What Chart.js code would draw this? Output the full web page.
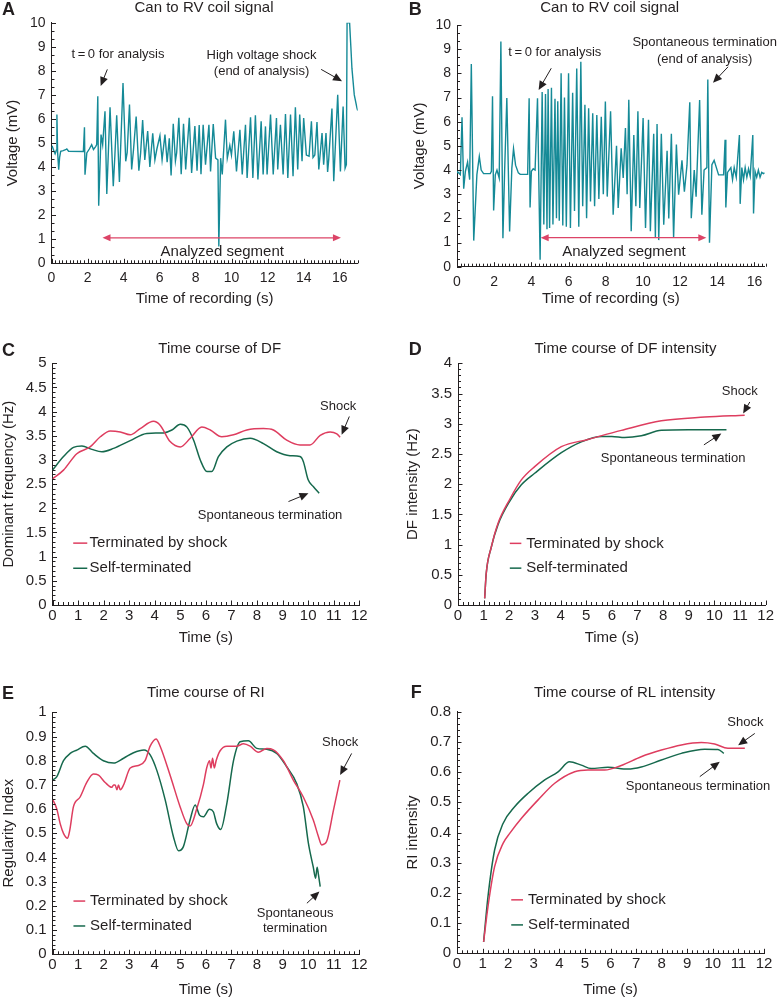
<!DOCTYPE html>
<html>
<head>
<meta charset="utf-8">
<title>Can to RV coil signal, DF and RI time courses</title>
<script src="https://cdn.jsdelivr.net/npm/chart.js@4.4.1/dist/chart.umd.min.js"></script>
<style>
  html, body { margin: 0; padding: 0; background: #fff; }
  #fig { position: relative; width: 777px; height: 1003px; overflow: hidden; }
  #fig canvas { position: absolute; }
</style>
</head>
<body>
<div id="fig">
  <canvas id="panelA" width="388" height="310" style="left:0;top:0"></canvas>
  <canvas id="panelB" width="389" height="310" style="left:388px;top:0"></canvas>
  <canvas id="panelC" width="388" height="340" style="left:0;top:310px"></canvas>
  <canvas id="panelD" width="389" height="340" style="left:388px;top:310px"></canvas>
  <canvas id="panelE" width="388" height="353" style="left:0;top:650px"></canvas>
  <canvas id="panelF" width="389" height="353" style="left:388px;top:650px"></canvas>
</div>
<script>
// ============================================
//  Data
// ============================================
const voltTicks = [0, 1, 2, 3, 4, 5, 6, 7, 8, 9, 10];
const recTicks  = [0, 2, 4, 6, 8, 10, 12, 14, 16];
const timeTicks = [0, 1, 2, 3, 4, 5, 6, 7, 8, 9, 10, 11, 12];
const dfTicks   = [0, 0.5, 1, 1.5, 2, 2.5, 3, 3.5, 4, 4.5, 5];
const dfiTicks  = [0, 0.5, 1, 1.5, 2, 2.5, 3, 3.5, 4];
const riTicks   = [0, 0.1, 0.2, 0.3, 0.4, 0.5, 0.6, 0.7, 0.8, 0.9, 1];
const rliTicks  = [0, 0.1, 0.2, 0.3, 0.4, 0.5, 0.6, 0.7, 0.8];

// A: can to RV coil signal, shock-terminated episode
const sigATime = [0.00,0.05,0.12,0.20,0.27,0.30,0.34,0.40,0.45,0.51,0.65,0.78,0.85,0.95,1.77,1.83,1.86,1.96,2.10,2.23,2.33,2.45,2.51,2.57,2.62,2.75,2.84,2.97,3.07,3.25,3.43,3.52,3.62,3.77,3.97,4.12,4.20,4.33,4.45,4.55,4.70,4.85,4.95,5.06,5.18,5.34,5.46,5.62,5.74,5.85,6.02,6.14,6.30,6.42,6.54,6.64,6.76,6.88,6.95,7.07,7.20,7.33,7.45,7.65,7.78,7.96,8.08,8.20,8.30,8.42,8.55,8.74,8.83,8.98,9.11,9.24,9.29,9.39,9.48,9.66,9.76,9.90,9.99,10.12,10.27,10.46,10.59,10.77,10.86,11.05,11.18,11.32,11.46,11.64,11.75,11.88,11.97,12.16,12.31,12.49,12.56,12.71,12.86,12.99,13.12,13.27,13.41,13.54,13.67,13.78,13.91,14.00,14.15,14.30,14.43,14.52,14.62,14.74,14.84,15.02,15.11,15.24,15.33,15.39,15.57,15.67,15.89,16.04,16.19,16.30,16.37,16.41,16.55,16.62,16.68,16.81,16.96,17.00];
const sigAVolt = [4.80,4.85,4.70,4.55,4.70,6.18,4.60,3.89,4.40,4.65,4.68,4.72,4.75,4.66,4.65,5.65,3.68,4.59,4.75,4.93,4.73,4.85,4.93,6.94,2.39,5.35,4.93,6.32,2.88,6.48,3.20,4.50,6.15,3.38,7.49,4.24,4.60,6.60,3.90,4.70,6.10,3.85,4.60,5.95,4.30,5.50,4.00,5.40,4.30,4.75,5.30,4.30,5.35,4.20,5.20,3.65,5.80,4.25,4.60,6.05,3.70,5.80,3.90,6.05,3.75,5.70,3.85,5.75,3.70,5.76,4.10,5.76,3.82,5.79,4.37,4.30,0.70,4.37,3.69,5.97,4.37,4.90,4.50,5.49,3.82,5.55,3.69,5.76,3.55,6.07,3.55,6.15,3.48,5.90,3.69,5.69,3.69,6.18,3.69,6.04,3.90,5.76,3.69,6.20,3.55,6.18,3.62,6.48,3.90,6.18,4.24,6.04,4.50,4.45,5.90,4.40,4.50,5.87,3.90,5.41,4.10,5.41,3.80,4.30,6.43,3.41,7.00,3.82,6.52,3.95,4.10,10.0,10.0,9.00,8.10,7.00,6.45,6.35];

// B: can to RV coil signal, self-terminating episode
const sigBTime = [0.00,0.04,0.18,0.27,0.36,0.45,0.57,0.68,0.77,0.90,1.07,1.20,1.30,1.43,1.79,1.85,1.91,1.97,2.06,2.15,2.27,2.36,2.47,2.56,2.68,2.83,2.95,3.04,3.15,3.30,3.40,3.80,3.88,3.93,4.00,4.10,4.20,4.33,4.47,4.58,4.67,4.76,4.84,4.90,4.98,5.08,5.16,5.27,5.35,5.42,5.50,5.60,5.69,5.78,5.88,6.00,6.10,6.22,6.32,6.44,6.55,6.66,6.76,6.88,6.97,7.08,7.18,7.30,7.40,7.52,7.63,7.76,7.87,7.98,8.08,8.26,8.40,8.58,8.67,8.83,8.94,9.06,9.15,9.24,9.37,9.51,9.62,9.73,9.83,10.01,10.14,10.30,10.40,10.58,10.67,10.76,10.85,10.99,11.12,11.30,11.39,11.53,11.65,11.80,11.92,12.10,12.23,12.37,12.52,12.60,12.76,12.86,13.05,13.17,13.29,13.44,13.49,13.58,13.71,13.83,14.07,14.34,14.42,14.46,14.55,14.73,14.82,14.91,15.02,15.19,15.23,15.32,15.41,15.50,15.59,15.68,15.77,15.91,15.95,16.03,16.12,16.21,16.30,16.39,16.48,16.55];
const sigBVolt = [3.90,3.92,3.81,6.18,3.23,3.94,4.33,3.60,8.39,1.08,3.81,4.56,4.00,3.85,3.85,3.95,7.05,2.33,3.80,4.00,3.67,9.32,1.18,3.93,6.98,1.46,4.08,4.88,4.20,3.88,3.82,3.82,6.97,2.45,3.95,4.05,4.00,6.97,0.29,7.23,1.75,7.15,1.55,7.35,1.60,7.40,1.75,6.95,2.00,6.85,1.90,8.00,1.70,7.00,1.65,8.00,1.60,7.20,2.30,8.20,1.65,8.48,2.50,6.70,2.00,6.55,2.70,6.35,2.50,6.28,2.80,6.20,3.00,6.83,2.90,6.43,2.15,5.00,2.43,4.90,3.67,5.74,3.00,6.91,1.47,5.45,2.50,6.43,2.43,6.15,1.60,6.08,1.47,5.50,1.20,5.90,1.10,5.50,1.74,4.80,2.00,5.50,1.20,5.05,2.98,4.40,3.10,4.20,6.80,2.01,4.00,2.90,6.90,2.15,4.00,4.10,7.75,0.99,4.22,4.40,3.80,3.80,5.25,2.45,3.90,4.10,3.60,4.10,3.70,5.45,2.60,4.10,3.60,4.10,3.70,4.05,3.75,5.45,2.20,3.95,3.70,4.00,3.70,3.90,3.85,3.88];

// C: dominant frequency (Hz)
const dfShockTime = [0,0.43,0.95,1.47,1.87,2.26,2.65,3.04,3.43,3.95,4.21,4.60,5.00,5.39,5.84,6.17,6.62,7.08,7.60,8.25,8.64,9.16,9.68,10.07,10.47,10.86,11.12,11.25];
const dfShock     = [2.61,2.79,3.13,3.27,3.48,3.60,3.58,3.52,3.65,3.80,3.72,3.38,3.27,3.45,3.68,3.62,3.48,3.52,3.62,3.65,3.62,3.41,3.31,3.31,3.51,3.58,3.54,3.47];
const dfSelfTime  = [0,0.43,0.82,1.15,1.54,1.93,2.39,3.04,3.69,4.34,4.67,5.00,5.26,5.52,5.78,6.04,6.23,6.49,6.82,7.21,7.73,8.25,8.77,9.29,9.68,9.81,10.00,10.20,10.43];
const dfSelf      = [2.79,3.07,3.26,3.29,3.22,3.17,3.24,3.40,3.55,3.56,3.62,3.74,3.68,3.41,3.00,2.76,2.76,3.07,3.27,3.39,3.45,3.34,3.17,3.09,3.07,2.97,2.59,2.45,2.31];

// D: DF intensity
const dfiShockTime = [1.04,1.10,1.30,1.56,2.02,2.47,2.99,4.03,5.07,6.37,7.93,9.62,11.18];
const dfiShock     = [0.11,0.52,0.96,1.35,1.75,2.07,2.29,2.62,2.74,2.89,3.05,3.11,3.14];
const dfiSelfTime  = [1.04,1.10,1.30,1.56,2.02,2.47,2.99,4.03,4.81,5.60,6.00,6.50,7.15,7.93,8.97,10.47];
const dfiSelf      = [0.11,0.52,0.96,1.33,1.72,1.99,2.18,2.52,2.70,2.79,2.79,2.77,2.80,2.89,2.90,2.90];

// E: regularity index
const riShockTime = [0.01,0.17,0.30,0.43,0.59,0.67,0.82,1.08,1.34,1.60,1.80,2.06,2.32,2.39,2.45,2.52,2.58,2.65,2.78,3.04,3.36,3.62,3.82,4.05,4.21,4.60,4.99,5.25,5.38,5.64,5.90,6.03,6.14,6.20,6.26,6.33,6.40,6.55,6.82,7.20,7.47,7.73,8.05,8.38,8.64,9.03,9.42,9.81,10.20,10.40,10.53,10.72,10.99,11.24];
const riShock     = [0.64,0.60,0.54,0.50,0.48,0.51,0.61,0.65,0.71,0.745,0.74,0.71,0.69,0.70,0.70,0.68,0.70,0.68,0.70,0.77,0.78,0.80,0.86,0.89,0.86,0.74,0.61,0.54,0.53,0.60,0.70,0.77,0.80,0.77,0.81,0.77,0.80,0.84,0.86,0.86,0.87,0.86,0.835,0.85,0.845,0.80,0.72,0.65,0.555,0.487,0.452,0.466,0.596,0.72];
const riSelfTime  = [0.01,0.17,0.43,0.69,0.95,1.28,1.60,1.99,2.39,2.78,3.17,3.58,3.82,4.08,4.41,4.73,4.93,5.12,5.38,5.58,5.75,5.90,6.14,6.29,6.42,6.58,6.82,7.08,7.34,7.66,7.99,8.38,8.77,9.16,9.55,9.81,10.01,10.20,10.29,10.35,10.40,10.47];
const riSelf      = [0.72,0.734,0.80,0.83,0.844,0.86,0.83,0.80,0.79,0.81,0.833,0.844,0.824,0.76,0.637,0.486,0.428,0.445,0.555,0.617,0.575,0.568,0.599,0.589,0.54,0.516,0.624,0.80,0.878,0.882,0.851,0.847,0.83,0.775,0.706,0.61,0.458,0.36,0.314,0.36,0.33,0.28];

// F: RI intensity
const rliShockTime = [1.04,1.21,1.47,1.80,2.06,2.52,3.17,3.82,4.60,5.12,5.77,6.42,7.20,7.99,8.77,9.55,10.07,10.59,11.25];
const rliShock     = [0.038,0.154,0.287,0.364,0.397,0.447,0.508,0.563,0.601,0.607,0.607,0.622,0.651,0.673,0.690,0.698,0.693,0.679,0.679];
const rliSelfTime  = [1.04,1.21,1.47,1.80,2.26,2.78,3.43,3.95,4.40,4.86,5.25,5.90,6.68,7.20,7.99,8.77,9.68,10.20,10.43];
const rliSelf      = [0.038,0.187,0.342,0.430,0.486,0.530,0.574,0.601,0.634,0.623,0.612,0.616,0.610,0.617,0.640,0.662,0.676,0.675,0.662];

// ============================================
//  Styles
// ============================================
const FONT  = '"Liberation Sans", Arial, Helvetica, sans-serif';
const INK   = '#231f20';
const TEAL  = '#158a97';
const RED   = '#de3d5f';
const GREEN = '#16694d';
const PINK  = '#dc4467';

const seriesLegend = [
  { color: RED,   text: 'Terminated by shock' },
  { color: GREEN, text: 'Self-terminated' }
];

// decoration settings per canvas id (kept outside Chart's option resolver)
const decorById = {};

// ============================================
//  Decoration plugin: inward ticks, letters, titles, notes, arrows
// ============================================
function drawHead(ctx, x, y, ang, len, wid) {
  ctx.beginPath();
  ctx.moveTo(x, y);
  ctx.lineTo(x - len * Math.cos(ang) + wid / 2 * Math.sin(ang), y - len * Math.sin(ang) - wid / 2 * Math.cos(ang));
  ctx.lineTo(x - len * Math.cos(ang) - wid / 2 * Math.sin(ang), y - len * Math.sin(ang) + wid / 2 * Math.cos(ang));
  ctx.closePath();
  ctx.fill();
}

function tickMarks(ctx, scale, step, major, horiz, a) {
  const n = Math.round((scale.max - scale.min) / step);
  ctx.beginPath();
  for (let i = 0; i <= n; i++) {
    const v = scale.min + i * step;
    const len = major.some(m => Math.abs(m - v) < step / 10) ? 4.5 : 3;
    const p = Math.round(scale.getPixelForValue(v)) + 0.5;
    if (horiz) { ctx.moveTo(p, a.bottom); ctx.lineTo(p, a.bottom - len); }
    else { ctx.moveTo(a.left, p); ctx.lineTo(a.left + len, p); }
  }
  ctx.stroke();
}

const panelDecor = {
  id: 'panelDecor',
  afterDraw(chart) {
    const o = decorById[chart.canvas.id];
    if (!o) return;
    const { ctx, chartArea: a, scales: { x, y } } = chart;
    const px = t => x.getPixelForValue(t);
    const py = v => y.getPixelForValue(v);
    ctx.save();
    ctx.strokeStyle = INK; ctx.fillStyle = INK; ctx.lineWidth = 1;
    tickMarks(ctx, x, o.minorX, o.xMajor, true, a);
    tickMarks(ctx, y, o.minorY, o.yMajor, false, a);

    ctx.textBaseline = 'middle';
    ctx.font = 'bold 18px ' + FONT; ctx.textAlign = 'left';
    ctx.fillText(o.letter, o.letterPos[0], o.letterPos[1]);
    ctx.font = '15px ' + FONT; ctx.textAlign = 'center';
    ctx.fillText(o.title, o.titlePos[0], o.titlePos[1]);

    (o.notes || []).forEach(n => {
      ctx.font = (n.size || 13) + 'px ' + FONT;
      ctx.fillText(n.text, px(n.t), py(n.v));
    });

    ctx.lineWidth = 1;
    (o.arrows || []).forEach(r => {
      const x1 = px(r.from[0]), y1 = py(r.from[1]), x2 = px(r.to[0]), y2 = py(r.to[1]);
      const ang = Math.atan2(y2 - y1, x2 - x1);
      ctx.beginPath(); ctx.moveTo(x1, y1); ctx.lineTo(x2 - 6 * Math.cos(ang), y2 - 6 * Math.sin(ang)); ctx.stroke();
      drawHead(ctx, x2, y2, ang, 9, 8);
    });

    if (o.span) {
      const s = o.span, x1 = px(s.from), x2 = px(s.to), yy = py(s.v);
      ctx.strokeStyle = PINK; ctx.fillStyle = PINK; ctx.lineWidth = 1.3;
      ctx.beginPath(); ctx.moveTo(x1 + 6, yy); ctx.lineTo(x2 - 6, yy); ctx.stroke();
      drawHead(ctx, x2, yy, 0, 8, 7);
      drawHead(ctx, x1, yy, Math.PI, 8, 7);
    }

    if (o.legend) {
      const g = o.legend;
      ctx.textAlign = 'left'; ctx.font = '15px ' + FONT; ctx.lineWidth = 1.5;
      seriesLegend.forEach((item, i) => {
        const yy = py(g.rows[i]);
        ctx.strokeStyle = item.color;
        ctx.beginPath(); ctx.moveTo(px(g.t0), yy); ctx.lineTo(px(g.t1), yy); ctx.stroke();
        ctx.fillStyle = INK;
        ctx.fillText(item.text, px(g.tText), yy);
      });
    }
    ctx.restore();
  }
};

// ============================================
//  Panel builder
// ============================================
function makePanel(id, cfg) {
  const canvas = document.getElementById(id);
  const W = canvas.width, H = canvas.height;
  const [L, T, R, B] = cfg.area;
  decorById[id] = Object.assign({ xMajor: cfg.xTicks, yMajor: cfg.yTicks }, cfg.decor);
  const tickFont = { family: FONT, size: cfg.tickSize };
  const titleFont = { family: FONT, size: 15 };
  return new Chart(canvas, {
    type: 'line',
    data: {
      datasets: cfg.series.map(s => ({
        data: s.t.map((t, i) => ({ x: t, y: s.v[i] })),
        borderColor: s.color,
        borderWidth: s.width || 1.5,
        pointRadius: 0,
        fill: false,
        tension: s.smooth ? 0.4 : 0,
        cubicInterpolationMode: s.smooth ? 'monotone' : 'default'
      }))
    },
    options: {
      responsive: false,
      animation: false,
      devicePixelRatio: 1,
      layout: { padding: { left: 0, top: T, right: W - R, bottom: 0 } },
      plugins: { legend: { display: false }, tooltip: { enabled: false } },
      scales: {
        x: {
          type: 'linear', min: cfg.xMin, max: cfg.xMax,
          afterBuildTicks: s => { s.ticks = cfg.xTicks.map(v => ({ value: v })); },
          afterFit: s => { s.height = H - B; },
          grid: { display: false, drawTicks: false },
          border: { display: true, color: INK, width: 1 },
          ticks: { padding: cfg.xTickPad, color: INK, font: tickFont, maxRotation: 0, autoSkip: false,
                   callback: v => String(v) },
          title: { display: true, text: cfg.xTitle, color: INK, font: titleFont, padding: { top: 0, bottom: cfg.xTitlePad } }
        },
        y: {
          type: 'linear', min: cfg.yMin, max: cfg.yMax,
          afterBuildTicks: s => { s.ticks = cfg.yTicks.map(v => ({ value: v })); },
          afterFit: s => { s.width = L; },
          grid: { display: false, drawTicks: false },
          border: { display: true, color: INK, width: 1 },
          ticks: { padding: 6, color: INK, font: tickFont, autoSkip: false,
                   callback: v => String(v) },
          title: { display: true, text: cfg.yTitle, color: INK, font: titleFont, padding: { top: cfg.yTitlePad, bottom: 0 } }
        }
      }
    },
    plugins: [panelDecor]
  });
}

// ============================================
//  Panels
// ============================================
makePanel('panelA', {
  area: [51.5, 22.7, 357.7, 263.3],
  xMin: 0, xMax: 17, yMin: 0, yMax: 10, xTicks: recTicks, yTicks: voltTicks, tickSize: 14,
  xTitle: 'Time of recording (s)', yTitle: 'Voltage (mV)', xTickPad: 6, xTitlePad: 2, yTitlePad: 3.7,
  series: [{ t: sigATime, v: sigAVolt, color: TEAL, width: 1.4 }],
  decor: {
    letter: 'A', letterPos: [2, 10], title: 'Can to RV coil signal', titlePos: [204, 8.3],
    minorX: 0.2, minorY: 1 / 3,
    notes: [
      { t: 3.69, v: 8.7, text: 't\u2009=\u20090 for analysis' },
      { t: 11.66, v: 8.62, text: 'High voltage shock' },
      { t: 11.66, v: 7.99, text: '(end of analysis)' },
      { t: 9.48, v: 0.48, text: 'Analyzed segment', size: 15 }
    ],
    arrows: [{ from: [3.10, 8.06], to: [2.73, 7.37] }, { from: [14.97, 8.06], to: [16.13, 7.57] }],
    span: { from: 2.83, to: 16.07, v: 1.06 }
  }
});

makePanel('panelB', {
  area: [69, 25, 376.7, 266.7],
  xMin: 0, xMax: 16.55, yMin: 0, yMax: 10, xTicks: recTicks, yTicks: voltTicks, tickSize: 14,
  xTitle: 'Time of recording (s)', yTitle: 'Voltage (mV)', xTickPad: 7, xTitlePad: 2, yTitlePad: 22.7,
  series: [{ t: sigBTime, v: sigBVolt, color: TEAL, width: 1.4 }],
  decor: {
    letter: 'B', letterPos: [20.7, 10], title: 'Can to RV coil signal', titlePos: [221.7, 8.3],
    minorX: 0.2, minorY: 1 / 3,
    notes: [
      { t: 5.26, v: 8.87, text: 't\u2009=\u20090 for analysis' },
      { t: 13.32, v: 9.27, text: 'Spontaneous termination' },
      { t: 13.32, v: 8.58, text: '(end of analysis)' },
      { t: 8.98, v: 0.62, text: 'Analyzed segment', size: 15 }
    ],
    arrows: [{ from: [5.07, 8.21], to: [4.39, 7.31] }, { from: [14.58, 8.27], to: [13.77, 7.61] }],
    span: { from: 4.50, to: 13.41, v: 1.2 }
  }
});

makePanel('panelC', {
  area: [52.5, 53.3, 359.3, 295],
  xMin: 0, xMax: 12, yMin: 0, yMax: 5, xTicks: timeTicks, yTicks: dfTicks, tickSize: 15,
  xTitle: 'Time (s)', yTitle: 'Dominant frequency (Hz)', xTickPad: 1.7, xTitlePad: 3, yTitlePad: 0,
  series: [
    { t: dfShockTime, v: dfShock, color: RED, smooth: true },
    { t: dfSelfTime, v: dfSelf, color: GREEN, smooth: true }
  ],
  decor: {
    letter: 'C', letterPos: [2, 41.3], title: 'Time course of DF', titlePos: [219.7, 39.3],
    minorX: 0.2, minorY: 0.1,
    notes: [
      { t: 11.17, v: 4.1, text: 'Shock' },
      { t: 8.51, v: 1.85, text: 'Spontaneous termination' }
    ],
    arrows: [{ from: [11.61, 3.9], to: [11.31, 3.52] }, { from: [9.23, 2.14], to: [10.01, 2.31] }],
    legend: { t0: 0.81, t1: 1.36, tText: 1.45, rows: [1.28, 0.76] }
  }
});

makePanel('panelD', {
  area: [70, 53.3, 377.7, 295],
  xMin: 0, xMax: 12, yMin: 0, yMax: 4, xTicks: timeTicks, yTicks: dfiTicks, tickSize: 15,
  xTitle: 'Time (s)', yTitle: 'DF intensity (Hz)', xTickPad: 1.7, xTitlePad: 3, yTitlePad: 16,
  series: [
    { t: dfiShockTime, v: dfiShock, color: RED, smooth: true },
    { t: dfiSelfTime, v: dfiSelf, color: GREEN, smooth: true }
  ],
  decor: {
    letter: 'D', letterPos: [20.7, 40], title: 'Time course of DF intensity', titlePos: [237.5, 39.3],
    minorX: 0.2, minorY: 0.1,
    notes: [
      { t: 10.99, v: 3.53, text: 'Shock' },
      { t: 8.39, v: 2.42, text: 'Spontaneous termination' }
    ],
    arrows: [{ from: [11.38, 3.36], to: [11.12, 3.17] }, { from: [9.59, 2.65], to: [10.27, 2.84] }],
    legend: { t0: 2.02, t1: 2.47, tText: 2.66, rows: [1.02, 0.61] }
  }
});

makePanel('panelE', {
  area: [52.5, 62.3, 359.3, 304.3],
  xMin: 0, xMax: 12, yMin: 0, yMax: 1, xTicks: timeTicks, yTicks: riTicks, tickSize: 15,
  xTitle: 'Time (s)', yTitle: 'Regularity Index', xTickPad: 1.7, xTitlePad: 4, yTitlePad: 0,
  series: [
    { t: riShockTime, v: riShock, color: RED, smooth: true },
    { t: riSelfTime, v: riSelf, color: GREEN, smooth: true }
  ],
  decor: {
    letter: 'E', letterPos: [2, 44], title: 'Time course of RI', titlePos: [205.8, 42.7],
    minorX: 0.2, minorY: 0.02,
    notes: [
      { t: 11.25, v: 0.876, text: 'Shock' },
      { t: 9.49, v: 0.169, text: 'Spontaneous' },
      { t: 9.49, v: 0.107, text: 'termination' }
    ],
    arrows: [{ from: [11.7, 0.83], to: [11.25, 0.741] }, { from: [9.95, 0.211], to: [10.44, 0.259] }],
    legend: { t0: 0.82, t1: 1.28, tText: 1.47, rows: [0.22, 0.117] }
  }
});

makePanel('panelF', {
  area: [69, 61.7, 376, 303.3],
  xMin: 0, xMax: 12, yMin: 0, yMax: 0.8, xTicks: timeTicks, yTicks: rliTicks, tickSize: 15,
  xTitle: 'Time (s)', yTitle: 'RI intensity', xTickPad: 1.7, xTitlePad: 4, yTitlePad: 16,
  series: [
    { t: rliShockTime, v: rliShock, color: RED, smooth: true },
    { t: rliSelfTime, v: rliSelf, color: GREEN, smooth: true }
  ],
  decor: {
    letter: 'F', letterPos: [22.7, 43], title: 'Time course of RL intensity', titlePos: [236.7, 42.7],
    minorX: 0.2, minorY: 0.02,
    notes: [
      { t: 11.27, v: 0.764, text: 'Shock' },
      { t: 9.42, v: 0.552, text: 'Spontaneous termination' }
    ],
    arrows: [{ from: [11.64, 0.728], to: [10.99, 0.689] }, { from: [9.49, 0.585], to: [10.27, 0.634] }],
    legend: { t0: 2.12, t1: 2.58, tText: 2.78, rows: [0.177, 0.094] }
  }
});
</script>
</body>
</html>
